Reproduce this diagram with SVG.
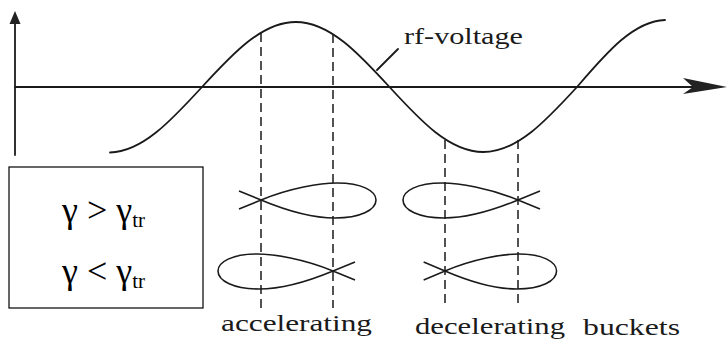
<svg xmlns="http://www.w3.org/2000/svg" width="728" height="340" viewBox="0 0 728 340">
<style>
.ln{fill:none;stroke:#1a1a1a;stroke-width:1.8;stroke-linecap:round;stroke-linejoin:round}
.fish{fill:none;stroke:#1a1a1a;stroke-width:1.6;stroke-linejoin:round}
.dash{fill:none;stroke:#1a1a1a;stroke-width:1.5;stroke-dasharray:9 5}
.lbl{font-family:'Liberation Serif',serif;font-size:24px;fill:#1a1a1a}
.g{font-family:'Liberation Serif',serif;font-size:36px;fill:#000}
.sub{font-family:'Liberation Serif',serif;font-size:21px;fill:#000}
</style>
<defs>
<path id="fishL" d="M-22,9 L0,0 C29,-12 59,-17 76,-17 C101,-17 115,-9 115,0 C115,10 99,18 74,18 C49,18 24,10 0,0 L-22,-9"/>
</defs>
<rect width="728" height="340" fill="#fff"/>
<g id="connectors">
<line class="ln" x1="15" y1="22" x2="15" y2="155" stroke-width="2.2"/>
<polygon points="15,11 9.5,24 20.5,24" fill="#222"/>
<line class="ln" x1="15" y1="87" x2="700" y2="87" stroke-width="2"/>
<polygon points="727,87 683,78 693,87 683,94" fill="#222"/>
<line class="ln" x1="398" y1="49" x2="377" y2="70" stroke-width="1.4"/>
</g>
<g id="rf-voltage-curve">
<path class="ln" d="M110,152.5 C142.18,152 171.43,120.3 202,87 C232.57,53.7 261.82,22 295.75,22 C329.68,22 358.93,53.7 389.5,87 C420.07,120.3 449.32,152 483.25,152 C517.18,152 546.43,120.3 577,87 C605.7,53.7 633.15,21 665,20"/>
</g>
<g id="dashed-lines">
<line class="dash" x1="261" y1="33" x2="261" y2="308"/>
<line class="dash" x1="333" y1="34" x2="333" y2="308"/>
<line class="dash" x1="445" y1="140" x2="445" y2="308"/>
<line class="dash" x1="518" y1="140" x2="518" y2="308"/>
</g>
<g id="bucket-acc-top"><use href="#fishL" class="fish" transform="translate(261,200)"/></g>
<g id="bucket-acc-bottom"><use href="#fishL" class="fish" transform="translate(333,271) scale(-1,1)"/></g>
<g id="bucket-dec-top"><use href="#fishL" class="fish" transform="translate(518,200) scale(-1,1)"/></g>
<g id="bucket-dec-bottom"><use href="#fishL" class="fish" transform="translate(445,271) scale(0.97,1)"/></g>
<g id="legend">
<rect x="9" y="167" width="194" height="141" fill="#fff" stroke="#000" stroke-width="1.2"/>
<text class="g" x="62" y="222">γ &gt; γ<tspan class="sub" dy="5">tr</tspan></text>
<text class="g" x="62" y="283">γ &lt; γ<tspan class="sub" dy="5">tr</tspan></text>
</g>
<g id="labels">
<text class="lbl" x="404" y="44" font-size="23" textLength="119" lengthAdjust="spacingAndGlyphs">rf-voltage</text>
<text class="lbl" x="221" y="331" textLength="151" lengthAdjust="spacingAndGlyphs">accelerating</text>
<text class="lbl" x="415" y="334" textLength="150" lengthAdjust="spacingAndGlyphs">decelerating</text>
<text class="lbl" x="583" y="335" textLength="97" lengthAdjust="spacingAndGlyphs">buckets</text>
</g>
</svg>
